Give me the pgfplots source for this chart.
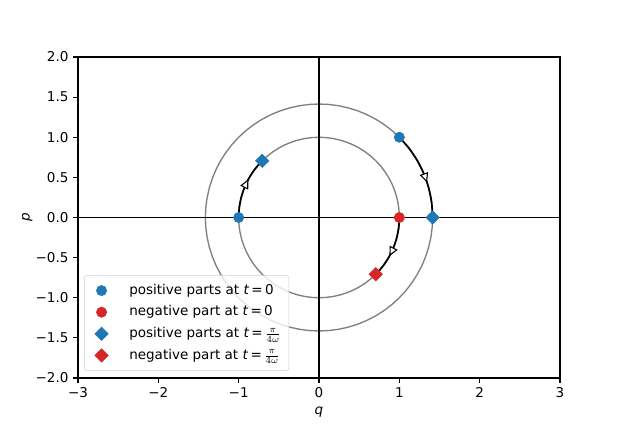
\documentclass[border=0pt]{standalone}
\usepackage{fontspec}
\setmainfont{DejaVu Sans}
\usepackage{pgfplots}
\usepackage{pgfplotstable}
\pgfplotsset{compat=1.18}
\usetikzlibrary{arrows.meta}
\definecolor{tabblue}{HTML}{1F77B4}
\definecolor{tabred}{HTML}{D62728}
\pgfplotstableread{
x y
1 0
0.99619 0.08716
0.98481 0.17365
0.96593 0.25882
0.93969 0.34202
0.90631 0.42262
0.86603 0.5
0.81915 0.57358
0.76604 0.64279
0.70711 0.70711
0.64279 0.76604
0.57358 0.81915
0.5 0.86603
0.42262 0.90631
0.34202 0.93969
0.25882 0.96593
0.17365 0.98481
0.08716 0.99619
0 1
-0.08716 0.99619
-0.17365 0.98481
-0.25882 0.96593
-0.34202 0.93969
-0.42262 0.90631
-0.5 0.86603
-0.57358 0.81915
-0.64279 0.76604
-0.70711 0.70711
-0.76604 0.64279
-0.81915 0.57358
-0.86603 0.5
-0.90631 0.42262
-0.93969 0.34202
-0.96593 0.25882
-0.98481 0.17365
-0.99619 0.08716
-1 0
-0.99619 -0.08716
-0.98481 -0.17365
-0.96593 -0.25882
-0.93969 -0.34202
-0.90631 -0.42262
-0.86603 -0.5
-0.81915 -0.57358
-0.76604 -0.64279
-0.70711 -0.70711
-0.64279 -0.76604
-0.57358 -0.81915
-0.5 -0.86603
-0.42262 -0.90631
-0.34202 -0.93969
-0.25882 -0.96593
-0.17365 -0.98481
-0.08716 -0.99619
0 -1
0.08716 -0.99619
0.17365 -0.98481
0.25882 -0.96593
0.34202 -0.93969
0.42262 -0.90631
0.5 -0.86603
0.57358 -0.81915
0.64279 -0.76604
0.70711 -0.70711
0.76604 -0.64279
0.81915 -0.57358
0.86603 -0.5
0.90631 -0.42262
0.93969 -0.34202
0.96593 -0.25882
0.98481 -0.17365
0.99619 -0.08716
1 0
}\unitcircle
\tikzset{tri/.style={-{Triangle[length=7pt,width=6.5pt,fill=white,line width=0.8pt]}, black, line width=0.6pt}}
\begin{document}
\begin{tikzpicture}
\path[use as bounding box] (-57.7pt,-39.2pt) rectangle (403.3pt,279.7pt);
\begin{axis}[
  at={(0,0)}, anchor=south west,
  width=356.7pt, height=237.5pt, scale only axis,
  xmin=-3, xmax=3, ymin=-2, ymax=2,
  xtick={-3,-2,-1,0,1,2,3},
  xticklabels={−3,−2,−1,0,1,2,3},
  ytick={-2,-1.5,-1,-0.5,0,0.5,1,1.5,2},
  yticklabels={−2.0,−1.5,−1.0,−0.5,0.0,0.5,1.0,1.5,2.0},
  tick align=outside, xtick pos=left, ytick pos=left,
  major tick length=3.5pt,
  tick style={black, line width=0.8pt},
  axis line style={line width=0.8pt},
  xlabel={\textit{q}}, ylabel={\textit{p}},
  xlabel style={yshift=0pt},
  ylabel style={yshift=-4.5pt},
  legend style={at={(0.0125,0.022)}, anchor=south west, draw=black!18,
    rounded corners=2pt, fill=white, fill opacity=0.8, text opacity=1,
    font=\fontsize{10}{12}\selectfont, row sep=0.5pt, inner xsep=2.6pt, inner ysep=3.5pt,
    nodes={inner xsep=3.3pt, inner ysep=1pt, text height=9.5pt, text depth=4pt}},
  legend image code/.code={\path (-10pt,0pt) (17pt,0pt); \draw[#1, opacity=1, fill opacity=1, draw opacity=1] plot coordinates {(0pt,0pt)};},
  legend cell align=left,
]
% circles
\addplot[forget plot, gray, line width=1pt] table[x=x,y=y] {\unitcircle};
\addplot[forget plot, gray, line width=1pt] table[x expr=1.41421*\thisrow{x}, y expr=1.41421*\thisrow{y}] {\unitcircle};
% axis lines
\addplot[forget plot, black, line width=0.9pt] coordinates {(-3,0) (3,0)};
\addplot[forget plot, black, line width=0.9pt] coordinates {(0,-2) (0,2)};
% arcs
\addplot[forget plot, black, line width=1.3pt, smooth] coordinates {
(1,1) (1.12197,0.86092) (1.22474,0.70711) (1.30656,0.54120) (1.36603,0.36603) (1.40211,0.18460) (1.41421,0)};
\addplot[forget plot, black, line width=1.3pt, smooth] coordinates {
(1,0) (0.99144,-0.13053) (0.96593,-0.25882) (0.92388,-0.38268) (0.86603,-0.5) (0.79335,-0.60876) (0.70711,-0.70711)};
\addplot[forget plot, black, line width=1.3pt, smooth] coordinates {
(-1,0) (-0.99144,0.13053) (-0.96593,0.25882) (-0.92388,0.38268) (-0.86603,0.5) (-0.79335,0.60876) (-0.70711,0.70711)};
% direction arrows
\addplot[forget plot, tri] coordinates {(1.31581,0.51831) (1.34500,0.43702)};
\addplot[forget plot, tri] coordinates {(0.90778,-0.41945) (0.87631,-0.48175)};
\addplot[forget plot, tri] coordinates {(-0.90996,0.41469) (-0.87882,0.47716)};
% markers
\addplot[only marks, mark=*, mark size=3.8pt, color=tabblue, mark options={draw=tabblue, fill=tabblue}] coordinates {(1,1) (-1,0)};
\addlegendentry{positive parts at \textit{t}\,=\,0}
\addplot[only marks, mark=*, mark size=3.8pt, color=tabred, mark options={draw=tabred, fill=tabred}] coordinates {(1,0)};
\addlegendentry{negative part at \textit{t}\,=\,0}
\addplot[only marks, mark=square*, mark size=3.5pt, color=tabblue, mark options={rotate=45, draw=tabblue, fill=tabblue}] coordinates {(1.41421,0) (-0.70711,0.70711)};
\addlegendentry{positive parts at \textit{t}\,=\,$\frac{\pi}{4\omega}$}
\addplot[only marks, mark=square*, mark size=3.5pt, color=tabred, mark options={rotate=45, draw=tabred, fill=tabred}] coordinates {(0.70711,-0.70711)};
\addlegendentry{negative part at \textit{t}\,=\,$\frac{\pi}{4\omega}$}
\end{axis}
\end{tikzpicture}
\end{document}
